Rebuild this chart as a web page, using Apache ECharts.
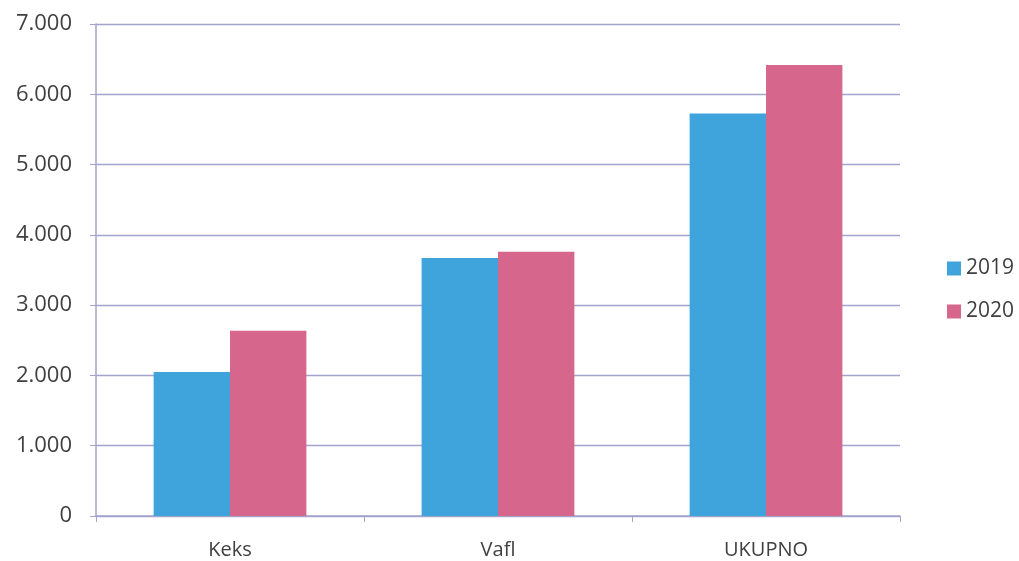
<!DOCTYPE html>
<html>
<head>
<meta charset="utf-8">
<script src="https://cdn.jsdelivr.net/npm/echarts@6/dist/echarts.min.js"></script>
<style>
  html, body { margin: 0; padding: 0; background: #fff; }
  #chart { width: 1019px; height: 561px; }
</style>
</head>
<body>
<div id="chart"></div>
<script>
var categories = ["Keks", "Vafl", "UKUPNO"];
var years = ["2019", "2020"];
var values2019 = [2050, 3670, 5725];
var values2020 = [2635, 3760, 6415];

var axisColor = "#a3a3cc";
var textColor = "#404040";

// thousands separated by a dot, as in the original
function fmt(v) {
  return v === 0 ? "0" : (v / 1000).toFixed(3);
}

var myChart = echarts.init(document.getElementById("chart"));
myChart.setOption({
  animation: false,
  color: ["#3fa3dc", "#d6668b"],
  grid: { left: 96, right: 119, top: 24, bottom: 45, containLabel: false },
  legend: {
    orient: "vertical",
    left: 942,
    top: 253,
    itemWidth: 14,
    itemHeight: 14,
    itemGap: 22,
    icon: "rect",
    textStyle: { fontFamily: "Open Sans", fontSize: 21, color: textColor },
    data: years
  },
  xAxis: {
    type: "category",
    data: categories,
    axisLine: { lineStyle: { color: axisColor, width: 1.5 } },
    axisTick: { show: true, length: 6, lineStyle: { color: axisColor } },
    axisLabel: { fontFamily: "Open Sans", fontSize: 20, color: textColor, margin: 24 }
  },
  yAxis: {
    type: "value",
    min: 0,
    max: 7000,
    interval: 1000,
    axisLine: { show: true, lineStyle: { color: axisColor, width: 1.5 } },
    axisTick: { show: true, length: 6, lineStyle: { color: axisColor } },
    splitLine: { show: true, lineStyle: { color: axisColor, width: 1.3 } },
    axisLabel: {
      fontFamily: "Open Sans",
      fontSize: 22,
      color: textColor,
      margin: 24,
      formatter: fmt
    }
  },
  series: [
    {
      name: years[0],
      type: "bar",
      data: values2019,
      barGap: "0%",
      barCategoryGap: "43%"
    },
    {
      name: years[1],
      type: "bar",
      data: values2020,
      barGap: "0%",
      barCategoryGap: "43%"
    }
  ]
});
</script>
</body>
</html>
